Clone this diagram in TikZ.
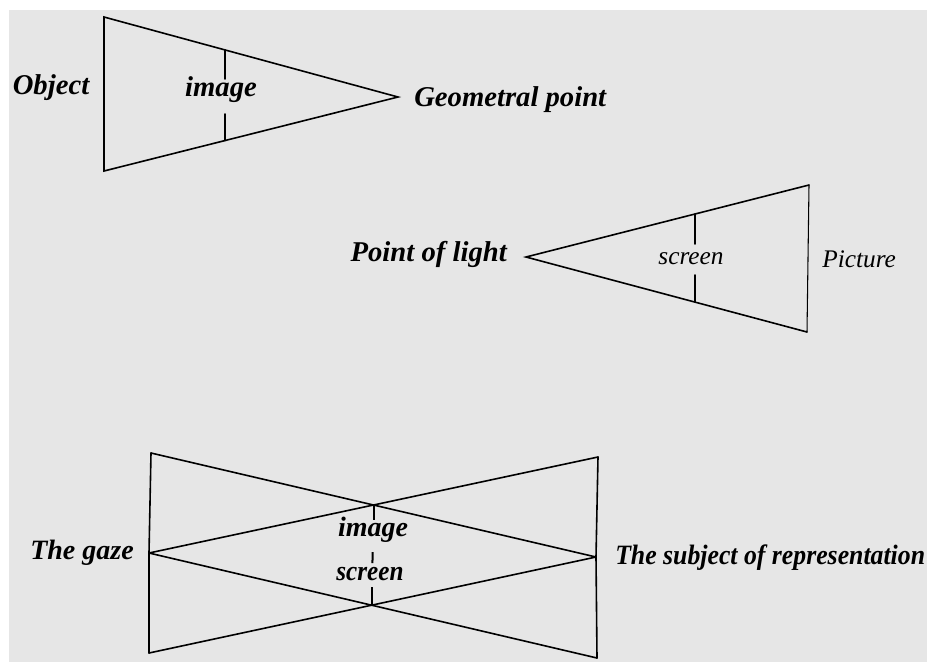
\documentclass[tikz,border=0pt]{standalone}
\usepackage{fontspec}
\usetikzlibrary{calc}
\setmainfont{Liberation Serif}
\definecolor{bg}{RGB}{230,230,230}
\begin{document}
\begin{tikzpicture}[x=0.75pt,y=-0.75pt,
  ln/.style={line width=1.2pt, line cap=round, line join=miter},
  tick/.style={line width=1.5pt, line cap=butt},
  lb/.style={font=\fontsize{21.5}{24}\selectfont\itshape\bfseries, inner sep=0pt},
  lbb/.style={font=\fontsize{21}{24}\selectfont\itshape\bfseries, inner sep=0pt},
  lt/.style={font=\fontsize{19}{22}\selectfont\itshape, inner sep=0pt}]
\useasboundingbox (0,0) rectangle (931,662);
\fill[white] (0,0) rectangle (931,662);
\fill[bg] (9,10) rectangle (927,662);
% top triangle
\coordinate (A1) at (104,17);
\coordinate (A2) at (104,171);
\coordinate (A3) at (398,97);
\draw[ln] (A1) -- (A3) -- (A2) -- cycle;
\coordinate (t1) at (225,49.9);
\coordinate (t2) at (225,79);
\coordinate (t3) at (225,114);
\coordinate (t4) at (225,140.5);
\draw[ln] (t1) -- (t2);
\draw[ln] (t3) -- (t4);
\node[lb] (object) at (51,88) {Object};
\node[lb] (image1) at (221,90) {image};
\node[lb,anchor=west] (geo) at (414,100) {Geometral point};
% middle triangle
\coordinate (B1) at (526,257);
\coordinate (B2) at (809,185);
\coordinate (B3) at (807,332);
\draw[ln] (B2) -- (B1) -- (B3);
\draw[ln,line width=0.8pt] (B2) -- (B3);
\coordinate (s1) at (695,214);
\coordinate (s2) at (695,244);
\coordinate (s3) at (695,275);
\coordinate (s4) at (695,302);
\draw[ln] (s1) -- (s2);
\draw[ln] (s3) -- (s4);
\node[lb,anchor=east] (light) at (507,254) {Point of light};
\node[lt] (screen1) at (691,259) {screen};
\node[lt,anchor=west] (picture) at (822,259) {Picture};
% bottom figure
\coordinate (TL) at (151,453);
\coordinate (LA) at (149,553);
\coordinate (BL) at (149,653);
\coordinate (TR) at (598,457);
\coordinate (RA) at (596,557);
\coordinate (BR) at (597,658);
\draw[ln] (TL) -- (LA) -- (BL);
\draw[ln] (TR) -- (RA) -- (BR);
\draw[ln] (TL) -- (RA);
\draw[ln] (BL) -- (RA);
\draw[ln] (TR) -- (LA);
\draw[ln] (BR) -- (LA);
\coordinate (X1) at (intersection of TL--RA and TR--LA);
\coordinate (X2) at (intersection of BL--RA and BR--LA);
\coordinate (d1) at ($(X1)+(0,15)$);
\coordinate (d2) at ($(X1)!0.47!(X2)$);
\coordinate (d3) at ($(X1)!0.58!(X2)$);
\coordinate (d4) at ($(X2)+(0,-18)$);
\draw[tick] (X1) -- (d1);
\draw[tick] (d2) -- (d3);
\draw[tick] (d4) -- (X2);
\node[lbb] (image2) at (373,530) {image};
\node[lbb,xscale=0.9] (screen2) at (370,574) {screen};
\node[lbb,anchor=east] (gaze) at (134,553) {The gaze};
\node[lbb,anchor=west,xscale=0.92] (subject) at (615,558) {The subject of representation};
\end{tikzpicture}
\end{document}
